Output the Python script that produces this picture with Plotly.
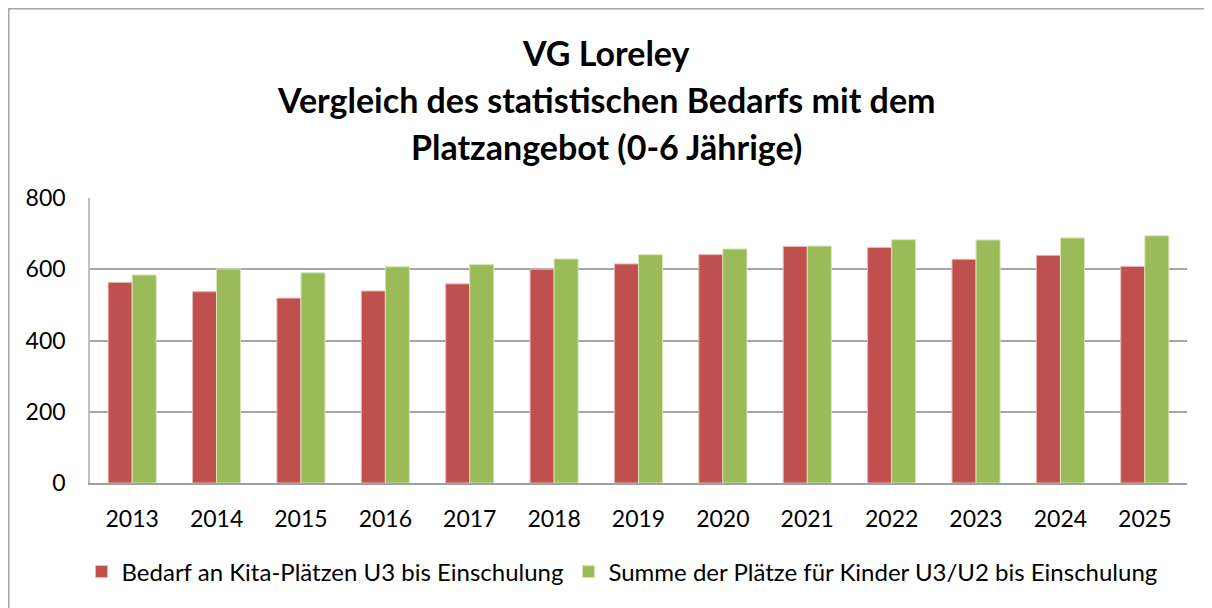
import plotly.graph_objects as go

years = ["2013", "2014", "2015", "2016", "2017", "2018", "2019",
         "2020", "2021", "2022", "2023", "2024", "2025"]
bedarf = [563, 537, 519, 539, 559, 600, 615, 641, 664, 661, 628, 639, 608]
plaetze = [584, 601, 590, 607, 613, 629, 641, 657, 665, 683, 682, 688, 694]
name_bedarf = "Bedarf an Kita-Plätzen U3 bis Einschulung"
name_plaetze = "Summe der Plätze für Kinder U3/U2 bis Einschulung"
title_lines = ["VG Loreley",
               "Vergleich des statistischen Bedarfs mit dem",
               "Platzangebot (0-6 Jährige)"]

FONT = "Lato, Calibri, Carlito, sans-serif"
OFF = 8  # page body margin offset
W, H = 1212 - OFF, 608 - OFF
# plot area in screen pixels
SX0, SX1, SY0, SY1 = 90, 1187, 198, 483
L, R, T, B = SX0 - OFF, W - (SX1 - OFF), SY0 - OFF, H - (SY1 - OFF)
PW, PH = W - L - R, H - T - B


def px(sx):
    return (sx - OFF - L) / PW


def py(sy):
    return (H - B - (sy - OFF)) / PH


fig = go.Figure()
fig.add_trace(go.Bar(x=years, y=bedarf, name=name_bedarf,
                     marker=dict(color="#C0504D", line=dict(color="#E6B9B8", width=1))))
fig.add_trace(go.Bar(x=years, y=plaetze, name=name_plaetze,
                     marker=dict(color="#9BBB59", line=dict(color="#D7E4BD", width=1))))

annotations = []
for text, yc in zip(title_lines, [52, 99, 146]):
    annotations.append(dict(text="<b>" + text + "</b>", xref="paper", yref="paper",
                            x=px(606), y=py(yc), xanchor="center", yanchor="middle",
                            showarrow=False, font=dict(family=FONT, size=34, color="#000000")))

fig.update_layout(
    width=W, height=H,
    margin=dict(l=L, r=R, t=T, b=B, pad=0),
    paper_bgcolor="white", plot_bgcolor="white",
    barmode="group", bargap=0.43, bargroupgap=0,
    font=dict(family=FONT, size=22, color="#000000"),
    showlegend=True,
    legend=dict(orientation="h", x=px(622), xanchor="center", y=py(572), yanchor="middle",
                font=dict(family=FONT, size=24), itemwidth=30, tracegroupgap=0),
    annotations=annotations,
    shapes=[dict(type="rect", xref="paper", yref="paper",
                 x0=px(OFF + 0.5), x1=px(1216), y0=py(616), y1=py(OFF + 0.5),
                 line=dict(color="#A6A6A6", width=2), layer="below")],
)
fig.update_xaxes(showline=True, linecolor="#A0A0A0", linewidth=1.5, showgrid=False,
                 ticks="", ticklabelstandoff=15, tickfont=dict(size=23))
fig.update_yaxes(range=[0, 800], dtick=200, showgrid=True, gridcolor="#A6A6A6", gridwidth=1.5,
                 showline=True, linecolor="#BFBFBF", linewidth=1.5, zeroline=False,
                 ticks="", ticklabelstandoff=18, tickfont=dict(size=23))

fig.write_html("out.html")
